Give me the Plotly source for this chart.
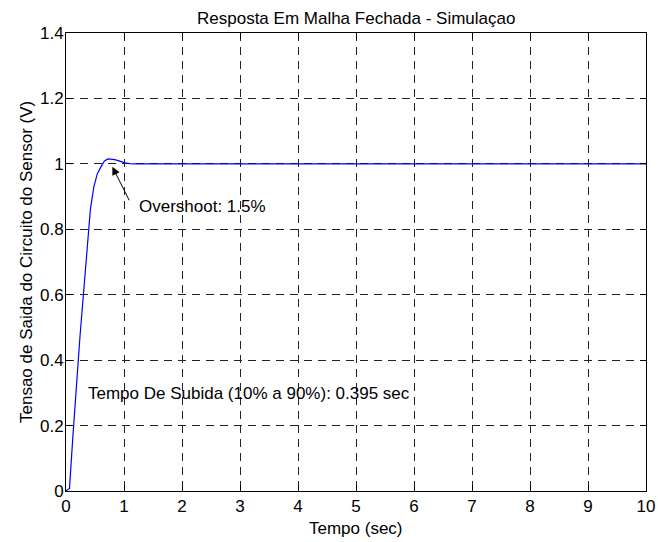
import plotly.graph_objects as go

# Closed-loop step response of the sensor circuit (simulation)
tempo = [0, 0.06, 0.12, 0.18, 0.24, 0.30, 0.36, 0.42, 0.48, 0.54, 0.60,
         0.66, 0.72, 0.78, 0.84, 0.90, 0.96, 1.02, 1.10, 1.20, 10]
tensao = [0, 0.008, 0.17, 0.33, 0.47, 0.60, 0.74, 0.86, 0.93, 0.97, 0.99,
          1.008, 1.015, 1.015, 1.013, 1.010, 1.006, 1.003, 1.001, 1.000, 1.000]

x_ticks = list(range(0, 11))
y_ticks = [0, 0.2, 0.4, 0.6, 0.8, 1, 1.2, 1.4]

overshoot_pct = 1.5
tempo_subida = 0.395

FONT = "Liberation Sans, Arial, Helvetica, sans-serif"
FS = 17

fig = go.Figure()
fig.add_trace(go.Scatter(x=tempo, y=tensao, mode="lines",
                         line=dict(color="#0000ff", width=1.2),
                         showlegend=False, hoverinfo="skip"))

axis_common = dict(
    showline=True, linecolor="black", linewidth=1, mirror="ticks",
    ticks="inside", ticklen=6, tickwidth=1, tickcolor="black",
    showgrid=True, gridcolor="#222222", gridwidth=1, griddash="8px,6px",
    zeroline=False, tickfont=dict(family=FONT, size=FS, color="black"),
)

fig.update_xaxes(range=[0, 10], tickvals=x_ticks, **axis_common)
fig.update_yaxes(range=[0, 1.4], tickvals=y_ticks,
                 ticktext=[f"{v:g}" for v in y_ticks],
                 ticklabelstandoff=-2, **axis_common)

annotations = [
    # title
    dict(text="Resposta Em Malha Fechada - Simulaçao", xref="paper", yref="paper",
         x=0.5, y=1, yshift=15, xanchor="center", yanchor="middle",
         showarrow=False, font=dict(family=FONT, size=FS, color="black")),
    # x axis title
    dict(text="Tempo (sec)", xref="paper", yref="paper",
         x=0.5, y=0, yshift=-37, xanchor="center", yanchor="middle",
         showarrow=False, font=dict(family=FONT, size=FS, color="black")),
    # y axis title
    dict(text="Tensao de Saida do Circuito do Sensor (V)", xref="paper", yref="paper",
         x=0, y=0.5, xshift=-40, xanchor="center", yanchor="middle", textangle=-90,
         showarrow=False, font=dict(family=FONT, size=FS, color="black")),
    # overshoot arrow
    dict(text="", x=0.80, y=0.991, xref="x", yref="y",
         ax=1.103, ay=0.884, axref="x", ayref="y",
         showarrow=True, arrowhead=2, arrowsize=1.6, arrowwidth=1,
         arrowcolor="black"),
    dict(text=f"Overshoot: {overshoot_pct}%", x=1.229, y=0.871, xref="x", yref="y",
         xanchor="left", yanchor="middle", showarrow=False,
         font=dict(family=FONT, size=FS, color="black")),
    dict(text=f"Tempo De Subida (10% a 90%): {tempo_subida} sec",
         x=0.34, y=0.299, xref="x", yref="y",
         xanchor="left", yanchor="middle", showarrow=False,
         font=dict(family=FONT, size=FS, color="black")),
]

fig.update_layout(
    width=658, height=542,
    margin=dict(l=66, r=12, t=33, b=51, autoexpand=False),
    paper_bgcolor="white", plot_bgcolor="white",
    annotations=annotations,
    font=dict(family=FONT, size=FS, color="black"),
)

fig.write_html("out.html")
